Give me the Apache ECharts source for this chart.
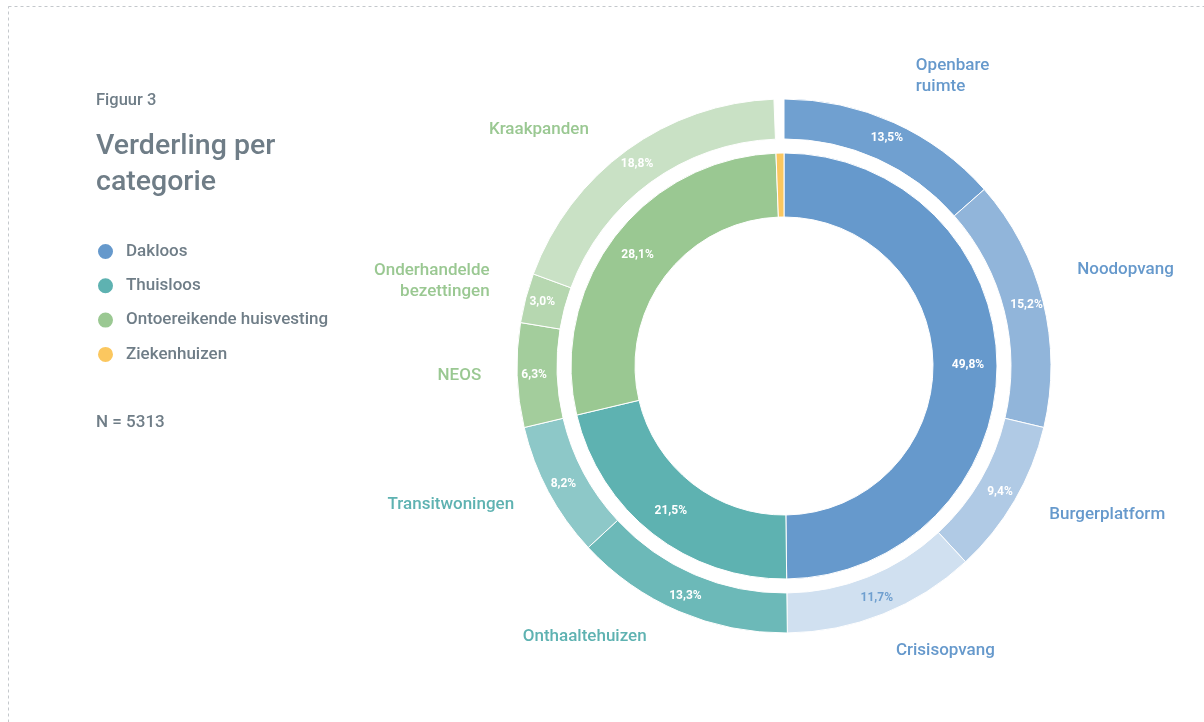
<!DOCTYPE html>
<html>
<head>
<meta charset="utf-8">
<title>Verderling per categorie</title>
<script src="https://cdn.jsdelivr.net/npm/echarts@6/dist/echarts.min.js"></script>
<style>
  html, body { margin: 0; padding: 0; background: #fff; }
  #main { width: 1204px; height: 722px; }
</style>
</head>
<body>
<div id="main"></div>
<script>
// binnenste ring: hoofdcategorieën (%)
var mainNames = ['Dakloos', 'Thuisloos', 'Ontoereikende huisvesting', 'Ziekenhuizen'];
var mainValues = [49.8, 21.5, 28.1, 0.6];
var mainColors = ['#6699cc', '#5eb2b1', '#9ac892', '#fbc75f'];

// buitenste ring: subcategorieën (%)
var subNames = ['Openbare\nruimte', 'Noodopvang', 'Burgerplatform', 'Crisisopvang',
	'Onthaaltehuizen', 'Transitwoningen',
	'NEOS', 'Onderhandelde\nbezettingen', 'Kraakpanden', 'Ziekenhuizen'];
var subValues = [13.5, 15.2, 9.4, 11.7, 13.3, 8.2, 6.3, 3.0, 18.8, 0.6];
var subParent = [0, 0, 0, 0, 1, 1, 2, 2, 2, 3];
var subColors = ['#70a0d0', '#91b5da', '#b0cae5', '#d0e0f0',
	'#6cb9b8', '#8dc8c8',
	'#a3cd9c', '#b6d7b0', '#c9e1c5', 'rgba(0,0,0,0)'];

// labellijn-lengtes per naam (lijn zelf verborgen)
var labelLen = [51, 129, 29, 40, 28, 28, 25, 67, 25, 25];
var labelLen2 = [1, -91, 9.5, -2, 21, 9.6, 11, -28.6, 23.5, 15];

var textGrey = '#6f7d87';
var font = 'Roboto, "Noto Sans", sans-serif';

function pct(v) {
	return v.toFixed(1).replace('.', ',') + '%';
}

var innerData = [];
for (var i = 0; i < mainNames.length; i++) {
	innerData.push({
		name: mainNames[i],
		value: mainValues[i],
		itemStyle: { color: mainColors[i] },
		label: { show: i < 3 }
	});
}

var outerData = [];
var outerNameData = [];
for (var j = 0; j < subNames.length; j++) {
	var isGap = subParent[j] == 3;
	outerData.push({
		name: subNames[j],
		value: subValues[j],
		itemStyle: { color: subColors[j], borderWidth: isGap ? 0 : 1 },
		label: {
			show: !isGap,
			color: j == 3 ? '#6f9fcf' : '#ffffff'
		}
	});
	outerNameData.push({
		name: subNames[j],
		value: subValues[j],
		label: {
			show: !isGap,
			color: mainColors[subParent[j]]
		},
		labelLine: { length: labelLen[j], length2: labelLen2[j] }
	});
}

var myChart = echarts.init(document.getElementById('main'), null, { renderer: 'canvas' });

var option = {
	backgroundColor: '#ffffff',
	textStyle: { fontFamily: font },
	animation: false,
	title: [{
		text: 'Figuur 3',
		left: 96,
		top: 92,
		padding: 0,
		textStyle: { fontSize: 16.5, fontWeight: 500, color: textGrey, fontFamily: font }
	}, {
		text: 'Verderling per\ncategorie',
		left: 96,
		top: 129,
		padding: 0,
		textStyle: { fontSize: 28.5, fontWeight: 500, lineHeight: 36, color: textGrey, fontFamily: font }
	}],
	legend: {
		orient: 'vertical',
		left: 96,
		top: 242,
		padding: 0,
		icon: 'circle',
		itemWidth: 17,
		itemHeight: 17,
		itemGap: 15.3,
		selectedMode: false,
		data: mainNames,
		textStyle: { fontSize: 17, fontWeight: 500, lineHeight: 17, color: textGrey, fontFamily: font, padding: [0, 0, 0, 7] }
	},
	graphic: [{
		type: 'rect',
		silent: true,
		shape: { x: 8.5, y: 6.5, width: 1220, height: 740 },
		style: { fill: 'none', stroke: '#c4c8cc', lineWidth: 1, lineDash: [3, 3] }
	}, {
		type: 'text',
		left: 96,
		top: 414,
		style: { text: 'N = 5313', font: '500 17px ' + font, fill: textGrey }
	}],
	series: [{
		name: 'Categorie',
		type: 'pie',
		center: [784, 366],
		radius: [149, 213],
		startAngle: 90,
		clockwise: true,
		avoidLabelOverlap: false,
		itemStyle: { borderColor: '#ffffff', borderWidth: 1 },
		label: {
			position: 'inside',
			color: '#ffffff',
			fontSize: 12,
			fontWeight: 'bold',
			fontFamily: font,
			formatter: function (p) { return pct(p.value); }
		},
		labelLine: { show: false },
		emphasis: { disabled: true },
		data: innerData
	}, {
		name: 'Subcategorie',
		type: 'pie',
		center: [784, 366],
		radius: [227, 267],
		startAngle: 90,
		clockwise: true,
		avoidLabelOverlap: false,
		itemStyle: { borderColor: '#ffffff', borderWidth: 1 },
		label: {
			position: 'inside',
			fontSize: 12,
			fontWeight: 'bold',
			fontFamily: font,
			formatter: function (p) { return pct(p.value); }
		},
		labelLine: { show: false },
		emphasis: { disabled: true },
		data: outerData
	}, {
		// alleen de namen buiten de ring
		name: 'Namen',
		type: 'pie',
		center: [784, 366],
		radius: [227, 267],
		startAngle: 90,
		clockwise: true,
		silent: true,
		avoidLabelOverlap: false,
		itemStyle: { color: 'rgba(0,0,0,0)', borderWidth: 0 },
		label: {
			position: 'outside',
			alignTo: 'none',
			distanceToLabelLine: 0,
			fontSize: 17,
			fontWeight: 500,
			lineHeight: 21,
			fontFamily: font,
			formatter: '{b}'
		},
		labelLine: { show: false, length: 25, length2: 15 },
		emphasis: { disabled: true },
		data: outerNameData
	}]
};

myChart.setOption(option);
</script>
</body>
</html>
